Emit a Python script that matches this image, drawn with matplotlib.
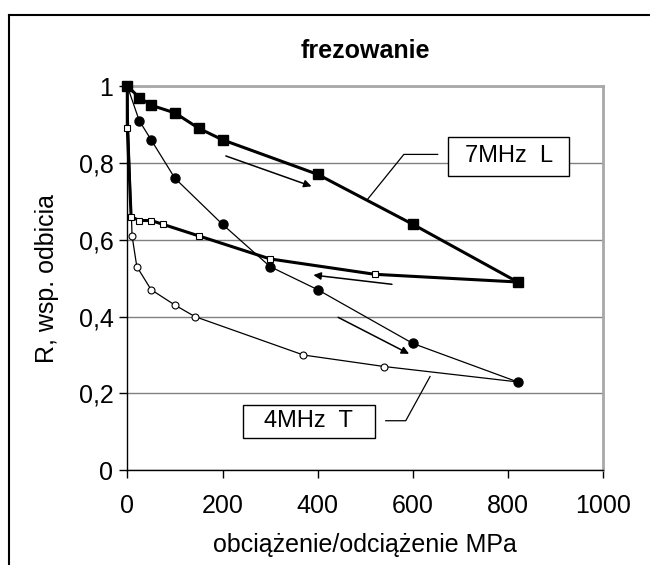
import matplotlib
matplotlib.use("Agg")
import matplotlib.pyplot as plt
from matplotlib.lines import Line2D
from matplotlib.patches import Rectangle

plt.rcParams['font.family'] = ['Liberation Sans', 'DejaVu Sans']

# 7MHz L - obciazenie (pelne kwadraty) i odciazenie (puste kwadraty)
x_7l_load = [0, 25, 50, 100, 150, 200, 400, 600, 820]
r_7l_load = [1.0, 0.97, 0.95, 0.93, 0.89, 0.86, 0.77, 0.64, 0.49]
x_7l_unload = [820, 520, 300, 150, 75, 50, 25, 8, 0, 0]
r_7l_unload = [0.49, 0.51, 0.55, 0.61, 0.64, 0.65, 0.65, 0.66, 0.89, 1.0]

# 4MHz T - obciazenie (pelne kola) i odciazenie (puste kola)
x_4t_load = [0, 25, 50, 100, 200, 300, 400, 600, 820]
r_4t_load = [1.0, 0.91, 0.86, 0.76, 0.64, 0.53, 0.47, 0.33, 0.23]
x_4t_unload = [820, 540, 370, 142, 100, 50, 20, 10, 0]
r_4t_unload = [0.23, 0.27, 0.30, 0.40, 0.43, 0.47, 0.53, 0.61, 1.0]

y_ticks = [0, 0.2, 0.4, 0.6, 0.8, 1.0]
y_tick_labels = ['0', '0,2', '0,4', '0,6', '0,8', '1']
x_ticks = [0, 200, 400, 600, 800, 1000]

fig = plt.figure(figsize=(6.5, 5.65), dpi=100)
ax = fig.add_axes([127.3/650, 94.7/565, 476/650, 384.3/565])

# linie z markerami (puste markery tylko na punktach odciazenia)
ax.plot(x_7l_unload, r_7l_unload, color='black', lw=2.2, zorder=3, clip_on=False)
ax.plot(x_7l_unload[1:-1], r_7l_unload[1:-1], ls='none', marker='s', ms=5,
        mfc='white', mec='black', mew=0.8, zorder=4, clip_on=False)
ax.plot(x_7l_load, r_7l_load, color='black', lw=2.2, marker='s', ms=6.5,
        mfc='black', mec='black', zorder=5, clip_on=False)

ax.plot(x_4t_unload, r_4t_unload, color='black', lw=0.9, zorder=3, clip_on=False)
ax.plot(x_4t_unload[1:-1], r_4t_unload[1:-1], ls='none', marker='o', ms=5,
        mfc='white', mec='black', mew=0.8, zorder=4, clip_on=False)
ax.plot(x_4t_load[1:], r_4t_load[1:], color='black', lw=0.9, marker='o', ms=6.5,
        mfc='black', mec='black', zorder=5, clip_on=False)
ax.plot(x_4t_load[:2], r_4t_load[:2], color='black', lw=0.9, zorder=5, clip_on=False)

# strzalki kierunku
arrow = dict(arrowstyle='-|>', color='black', lw=1.1, mutation_scale=11,
             shrinkA=0, shrinkB=0)
ax.annotate('', xy=(387, 0.739), xytext=(207, 0.818), arrowprops=arrow, zorder=6)
ax.annotate('', xy=(391, 0.508), xytext=(556, 0.484), arrowprops=arrow, zorder=6)
ax.annotate('', xy=(592, 0.303), xytext=(443, 0.398), arrowprops=arrow, zorder=6)

# etykiety serii w ramkach z liniami odniesienia
ax.plot([652, 581, 504], [0.822, 0.822, 0.704], color='black', lw=0.9, zorder=6)
ax.plot([543, 585, 636], [0.129, 0.129, 0.244], color='black', lw=0.9, zorder=6)
ax.add_patch(Rectangle((674, 0.767), 254, 0.101, fc='white', ec='black',
                       lw=1.0, zorder=7))
ax.add_patch(Rectangle((243, 0.085), 277, 0.085, fc='white', ec='black',
                       lw=1.0, zorder=7))
ax.text(801, 0.8175, '7MHz  L', ha='center', va='center', fontsize=17, zorder=8)
ax.text(381.5, 0.1275, '4MHz  T', ha='center', va='center', fontsize=17, zorder=8)

ax.set_xlim(0, 1000)
ax.set_ylim(0, 1)
ax.set_xticks(x_ticks)
ax.set_yticks(y_ticks)
ax.set_yticklabels(y_tick_labels)
ax.tick_params(direction='out', length=6, width=1, labelsize=18, pad=4)
ax.tick_params(axis='x', pad=11)

ax.grid(axis='y', color='#808080', lw=1)
ax.set_axisbelow(True)
for s in ['top', 'right']:
    ax.spines[s].set_color('#a8a8a8')
    ax.spines[s].set_linewidth(2)
for s in ['left', 'bottom']:
    ax.spines[s].set_color('black')
    ax.spines[s].set_linewidth(1)

ax.set_title('frezowanie', fontsize=18, fontweight='bold', pad=20)
ax.set_xlabel('obciążenie/odciążenie MPa', fontsize=18, labelpad=11)
ax.set_ylabel('R, wsp. odbicia', fontsize=18, labelpad=14)

# ramka obszaru wykresu
fig.add_artist(Line2D([9/650, 1], [1 - 15/565, 1 - 15/565], color='black', lw=1.5))
fig.add_artist(Line2D([9/650, 9/650], [0, 1 - 15/565], color='black', lw=1.5))

fig.savefig('out.png', dpi=100)
